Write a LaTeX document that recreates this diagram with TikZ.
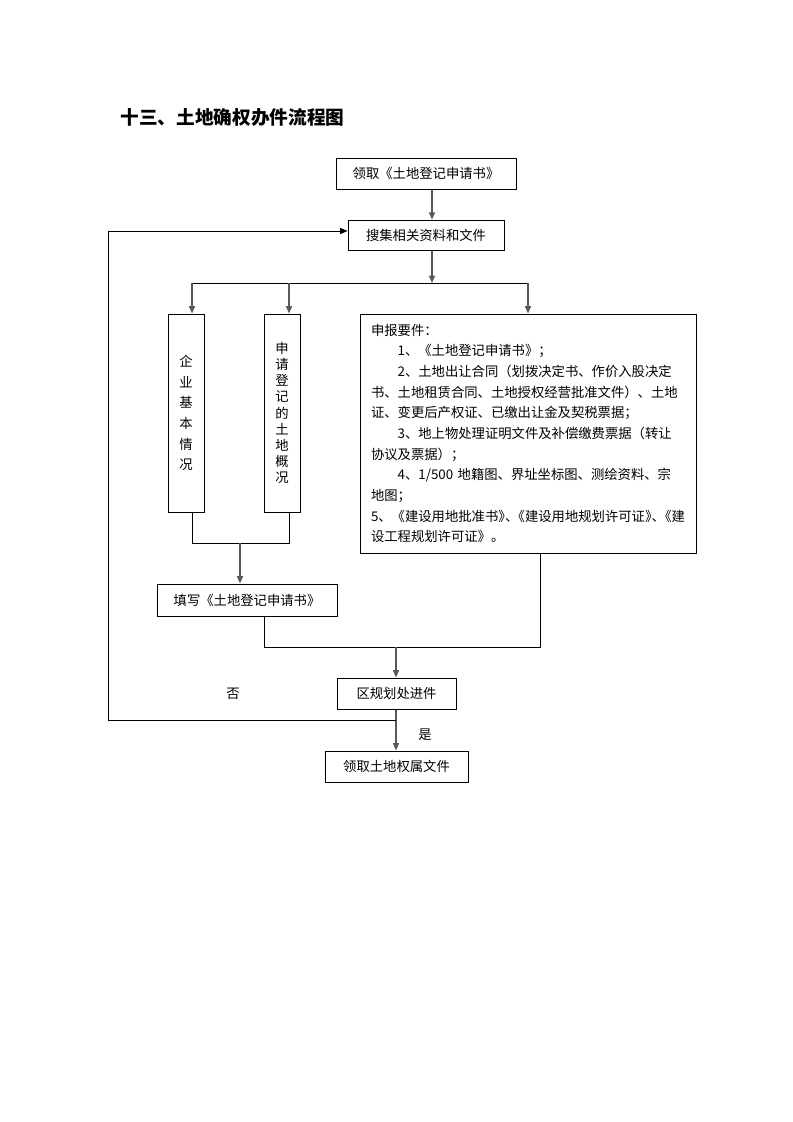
\documentclass[tikz,border=0pt]{standalone}
\usepackage{fontspec}
\setmainfont{Noto Sans CJK SC}
\newfontfamily\haltfont{Noto Sans CJK SC}[RawFeature=+halt]
\newcommand{\hp}[1]{{\haltfont #1}}
\usetikzlibrary{arrows.meta, calc, positioning}
\tikzset{>={Triangle[length=5.5pt,width=4.5pt]}}

\begin{document}
\begin{tikzpicture}[x=0.75pt, y=-0.75pt,
		box/.style={draw, line width=0.75pt, inner sep=0pt, align=center, font=\fontsize{10pt}{12pt}\selectfont},
		flow/.style={->, draw=black!65, line width=1.1pt},
		link/.style={line width=0.75pt},
		lbl/.style={font=\fontsize{10pt}{12pt}\selectfont}]
			\useasboundingbox (0,0) rectangle (793,1122);
			\node[font=\fontsize{14pt}{16pt}\selectfont\bfseries] (title) at (232.5,117) {十三、土地确权办件流程图};
			\node[box, minimum width=135pt, minimum height=23.25pt] (get) at (426,173.5) {领取《土地登记申请书》};
			\node[box, minimum width=117pt, minimum height=23pt] (collect) at (426,235.5) {搜集相关资料和文件};
			\node[box, minimum width=27pt, minimum height=148.5pt, font=\fontsize{10pt}{15.5pt}\selectfont] (corp) at (186,413) {企\\业\\基\\本\\情\\况};
			\node[box, minimum width=27pt, minimum height=148.5pt, font=\fontsize{10pt}{12.1pt}\selectfont] (land) at (282,413) {申\\请\\登\\记\\的\\土\\地\\概\\况};
			\node[box, minimum width=252pt, minimum height=179.25pt, text width=235.5pt, inner xsep=8.25pt, align=left, font=\fontsize{10pt}{15.5pt}\selectfont] (req) at (528,433.5) {申报要件：\\
				\hspace*{2em}1、《土地登记申请书》；\\
				\hspace*{2em}2、土地出让合同（划拨决定书、作价入股决定\\
				书、土地租赁合同、土地授权经营批准文件）、土地\\
				证、变更后产权证、已缴出让金及契税票据；\\
				\hspace*{2em}3、地上物处理证明文件及补偿缴费票据（转让\\
				协议及票据）；\\
				\hspace*{2em}4、1/500 地籍图、界址坐标图、测绘资料、宗\\
				地图；\\
				5、《建设用地批准书\hp{》}、\hp{《}建设用地规划许可证\hp{》}、\hp{《}建\\
				设工程规划许可证》。};
			\node[box, minimum width=135pt, minimum height=24pt] (fill) at (247,600) {填写《土地登记申请书》};
			\node[box, minimum width=89.25pt, minimum height=23.25pt] (district) at (396.5,693.5) {区规划处进件};
			\node[box, minimum width=107.25pt, minimum height=23.25pt] (receive) at (396.5,766.5) {领取土地权属文件};
			\node[lbl] (no) at (233,694) {否};
			\node[lbl] (yes) at (425,735) {是};
			\coordinate (split) at (432,283);
			\coordinate (splitL) at (192,283);
			\coordinate (splitM) at (289,283);
			\coordinate (splitR) at (528,283);
			\coordinate (mergeL) at (192,543);
			\coordinate (mergeM) at (240,543);
			\coordinate (mergeR) at (289,543);
			\coordinate (joinL) at (264,647);
			\coordinate (joinM) at (396,647);
			\coordinate (joinR) at (540,647);
			\coordinate (backB) at (108,720);
			\coordinate (backT) at (108,231);
			\draw[flow] (get.south -| split) -- (collect.north -| split);
			\draw[flow] (collect.south -| split) -- (split);
			\draw[link] (splitL) -- (splitR);
			\draw[flow] (splitL) -- (corp.north -| splitL);
			\draw[flow] (splitM) -- (land.north -| splitM);
			\draw[flow] (splitR) -- (req.north);
			\draw[link] (corp.south -| mergeL) -- (mergeL) -- (mergeR) -- (land.south -| mergeR);
			\draw[flow] (mergeM) -- (fill.north -| mergeM);
			\draw[link] (fill.south -| joinL) -- (joinL) -- (joinR) -- (req.south -| joinR);
			\draw[flow] (joinM) -- (district.north -| joinM);
			\draw[flow] (district.south -| joinM) -- (receive.north -| joinM);
			\draw[link,->] (joinM |- backB) -- (backB) -- (backT) -- (collect.west |- backT);
		\end{tikzpicture}
\end{document}
